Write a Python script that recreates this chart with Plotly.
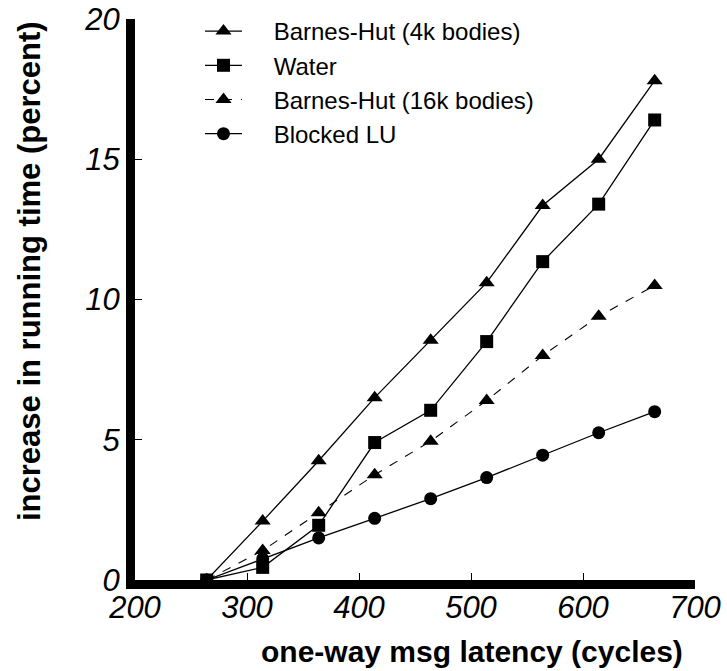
import plotly.graph_objects as go

latency = [264, 314, 364, 414, 464, 514, 564, 614, 664]
bh4k = [0, 2.1, 4.25, 6.5, 8.55, 10.6, 13.35, 15.0, 17.8]
water = [0, 0.45, 1.95, 4.9, 6.05, 8.5, 11.35, 13.4, 16.4]
bh16k = [0, 1.05, 2.4, 3.75, 4.95, 6.4, 8.0, 9.4, 10.5]
blocked_lu = [0, 0.75, 1.5, 2.2, 2.9, 3.65, 4.45, 5.25, 6.0]

x_ticks = [200, 300, 400, 500, 600, 700]
y_ticks = [0, 5, 10, 15, 20]

FONT = "Liberation Sans, Arial, sans-serif"
PAD = "\u00a0" * 4

fig = go.Figure()
fig.add_trace(go.Scatter(x=latency, y=bh4k, name=PAD + "Barnes-Hut (4k bodies)", mode="lines+markers",
                         line=dict(color="black", width=1.3),
                         marker=dict(symbol="triangle-up", size=14, color="black")))
fig.add_trace(go.Scatter(x=latency, y=water, name=PAD + "Water", mode="lines+markers",
                         line=dict(color="black", width=1.3),
                         marker=dict(symbol="square", size=13, color="black")))
fig.add_trace(go.Scatter(x=latency, y=bh16k, name=PAD + "Barnes-Hut (16k bodies)", mode="lines+markers",
                         line=dict(color="black", width=1.1, dash="dash"),
                         marker=dict(symbol="triangle-up", size=14, color="black")))
fig.add_trace(go.Scatter(x=latency, y=blocked_lu, name=PAD + "Blocked LU", mode="lines+markers",
                         line=dict(color="black", width=1.3),
                         marker=dict(symbol="circle", size=13, color="black")))

W, H = 727, 671
L, R, T, B = 135, 32, 19, 91
PW = W - L - R
PH = H - T - B


def px(xabs):
    return (xabs - L) / PW


def py(yabs):
    return (H - B - yabs) / PH


fig.update_layout(
    width=W, height=H,
    margin=dict(l=L, r=R, t=T, b=B, autoexpand=False),
    paper_bgcolor="white", plot_bgcolor="white",
    font=dict(family=FONT, color="black"),
    showlegend=True,
    legend=dict(x=px(200), y=py(9), xanchor="left", yanchor="top",
                bgcolor="rgba(0,0,0,0)", borderwidth=0,
                font=dict(family=FONT, size=24, color="black"),
                itemwidth=37),
    xaxis=dict(range=[200, 700], tickvals=x_ticks, ticktext=[str(v) for v in x_ticks],
               showgrid=False, zeroline=False, showline=True, linewidth=9, linecolor="black",
               ticks="inside", ticklen=7, tickwidth=1, tickcolor="black", automargin=False,
               tickfont=dict(family=FONT, size=31, style="italic", color="black"),
               ticklabelstandoff=-8, ticklabeloverflow="allow"),
    yaxis=dict(range=[0, 20], tickvals=y_ticks, ticktext=[str(v) for v in y_ticks],
               showgrid=False, zeroline=False, showline=True, linewidth=9, linecolor="black",
               ticks="inside", ticklen=7, tickwidth=1, tickcolor="black", automargin=False,
               tickfont=dict(family=FONT, size=31, style="italic", color="black"),
               ticklabelstandoff=0, ticklabeloverflow="allow"),
    annotations=[
        dict(text="<b>one-way msg latency (cycles)</b>", xref="paper", yref="paper",
             x=px(472), y=py(651), xanchor="center", yanchor="middle",
             showarrow=False, font=dict(family=FONT, size=30, color="black")),
        dict(text="<b>increase in running time (percent)</b>", xref="paper", yref="paper",
             x=px(29), y=py(271), xanchor="center", yanchor="middle",
             textangle=-90, showarrow=False, font=dict(family=FONT, size=31, color="black")),
    ],
)

fig.write_html("out.html", config={"displayModeBar": False},
               post_script="document.body.style.margin='0';")
